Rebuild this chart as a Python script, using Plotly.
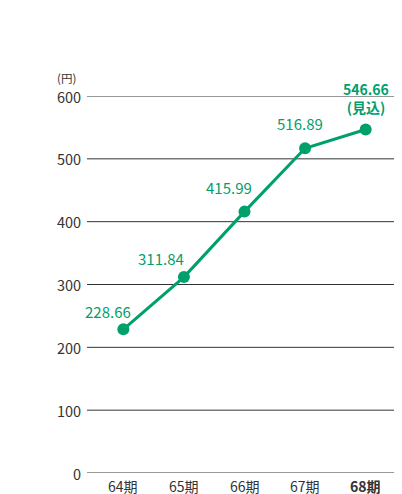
import plotly.graph_objects as go

periods = ["64期", "65期", "66期", "67期", "68期"]
tick_labels = ["64期", "65期", "66期", "67期", "<b>68期</b>"]
values = [228.66, 311.84, 415.99, 516.89, 546.66]
value_labels = ["228.66", "311.84", "415.99", "516.89", "<b>546.66</b><br><b>(見込)</b>"]
y_ticks = [0, 100, 200, 300, 400, 500, 600]

GREEN = "#00A06C"
FONT = "Noto Sans CJK JP"
GRID = "#333333"

# The page body has an 8px default margin; size the figure to fill the rest.
fig = go.Figure()
fig.add_trace(go.Scatter(
    x=list(range(len(periods))), y=values, mode="lines+markers",
    line=dict(color=GREEN, width=3),
    marker=dict(color=GREEN, size=12),
    showlegend=False, hoverinfo="skip", cliponaxis=False,
))

shifts = [(-15, 18), (-23, 19), (-16, 24), (-5, 25), (0, 32)]
for i, (v, lab) in enumerate(zip(values, value_labels)):
    dx, dy = shifts[i]
    fig.add_annotation(
        x=i, y=v, text=lab, showarrow=False, xshift=dx, yshift=dy,
        font=dict(family=FONT, size=15 if i < 4 else 14, color=GREEN),
        align="center",
    )

for i, lab in enumerate(tick_labels):
    fig.add_annotation(
        x=i, y=0, text=lab, showarrow=False, yanchor="top", yshift=-1,
        font=dict(family=FONT, size=14, color="#333333"),
    )

for t in y_ticks:
    fig.add_annotation(
        x=0, xref="paper", y=t, text=str(t), showarrow=False,
        xanchor="right", xshift=-4,
        font=dict(family=FONT, size=14.5, color="#333333"),
    )

fig.add_annotation(
    x=0, xref="paper", y=600, yref="y", text="(円)", showarrow=False,
    xanchor="right", yanchor="bottom", xshift=-9, yshift=8,
    font=dict(family=FONT, size=11.5, color="#333333"),
)

for t in y_ticks:
    fig.add_shape(type="line", xref="paper", x0=0, x1=1, yref="y", y0=t, y1=t,
                  line=dict(color=GRID, width=1), layer="below")

fig.update_layout(
    width=394, height=486,
    margin=dict(l=79, r=0, t=88, b=21, autoexpand=False),
    paper_bgcolor="white", plot_bgcolor="white",
    font=dict(family=FONT, color="#333333"),
    xaxis=dict(
        range=[-0.6, 4.6], showticklabels=False,
        showgrid=False, zeroline=False, showline=False, ticks="",
        automargin=False,
    ),
    yaxis=dict(
        range=[0, 600], showticklabels=False,
        showgrid=False, zeroline=False, showline=False, ticks="",
        automargin=False,
    ),
)

fig.write_html("out.html")
